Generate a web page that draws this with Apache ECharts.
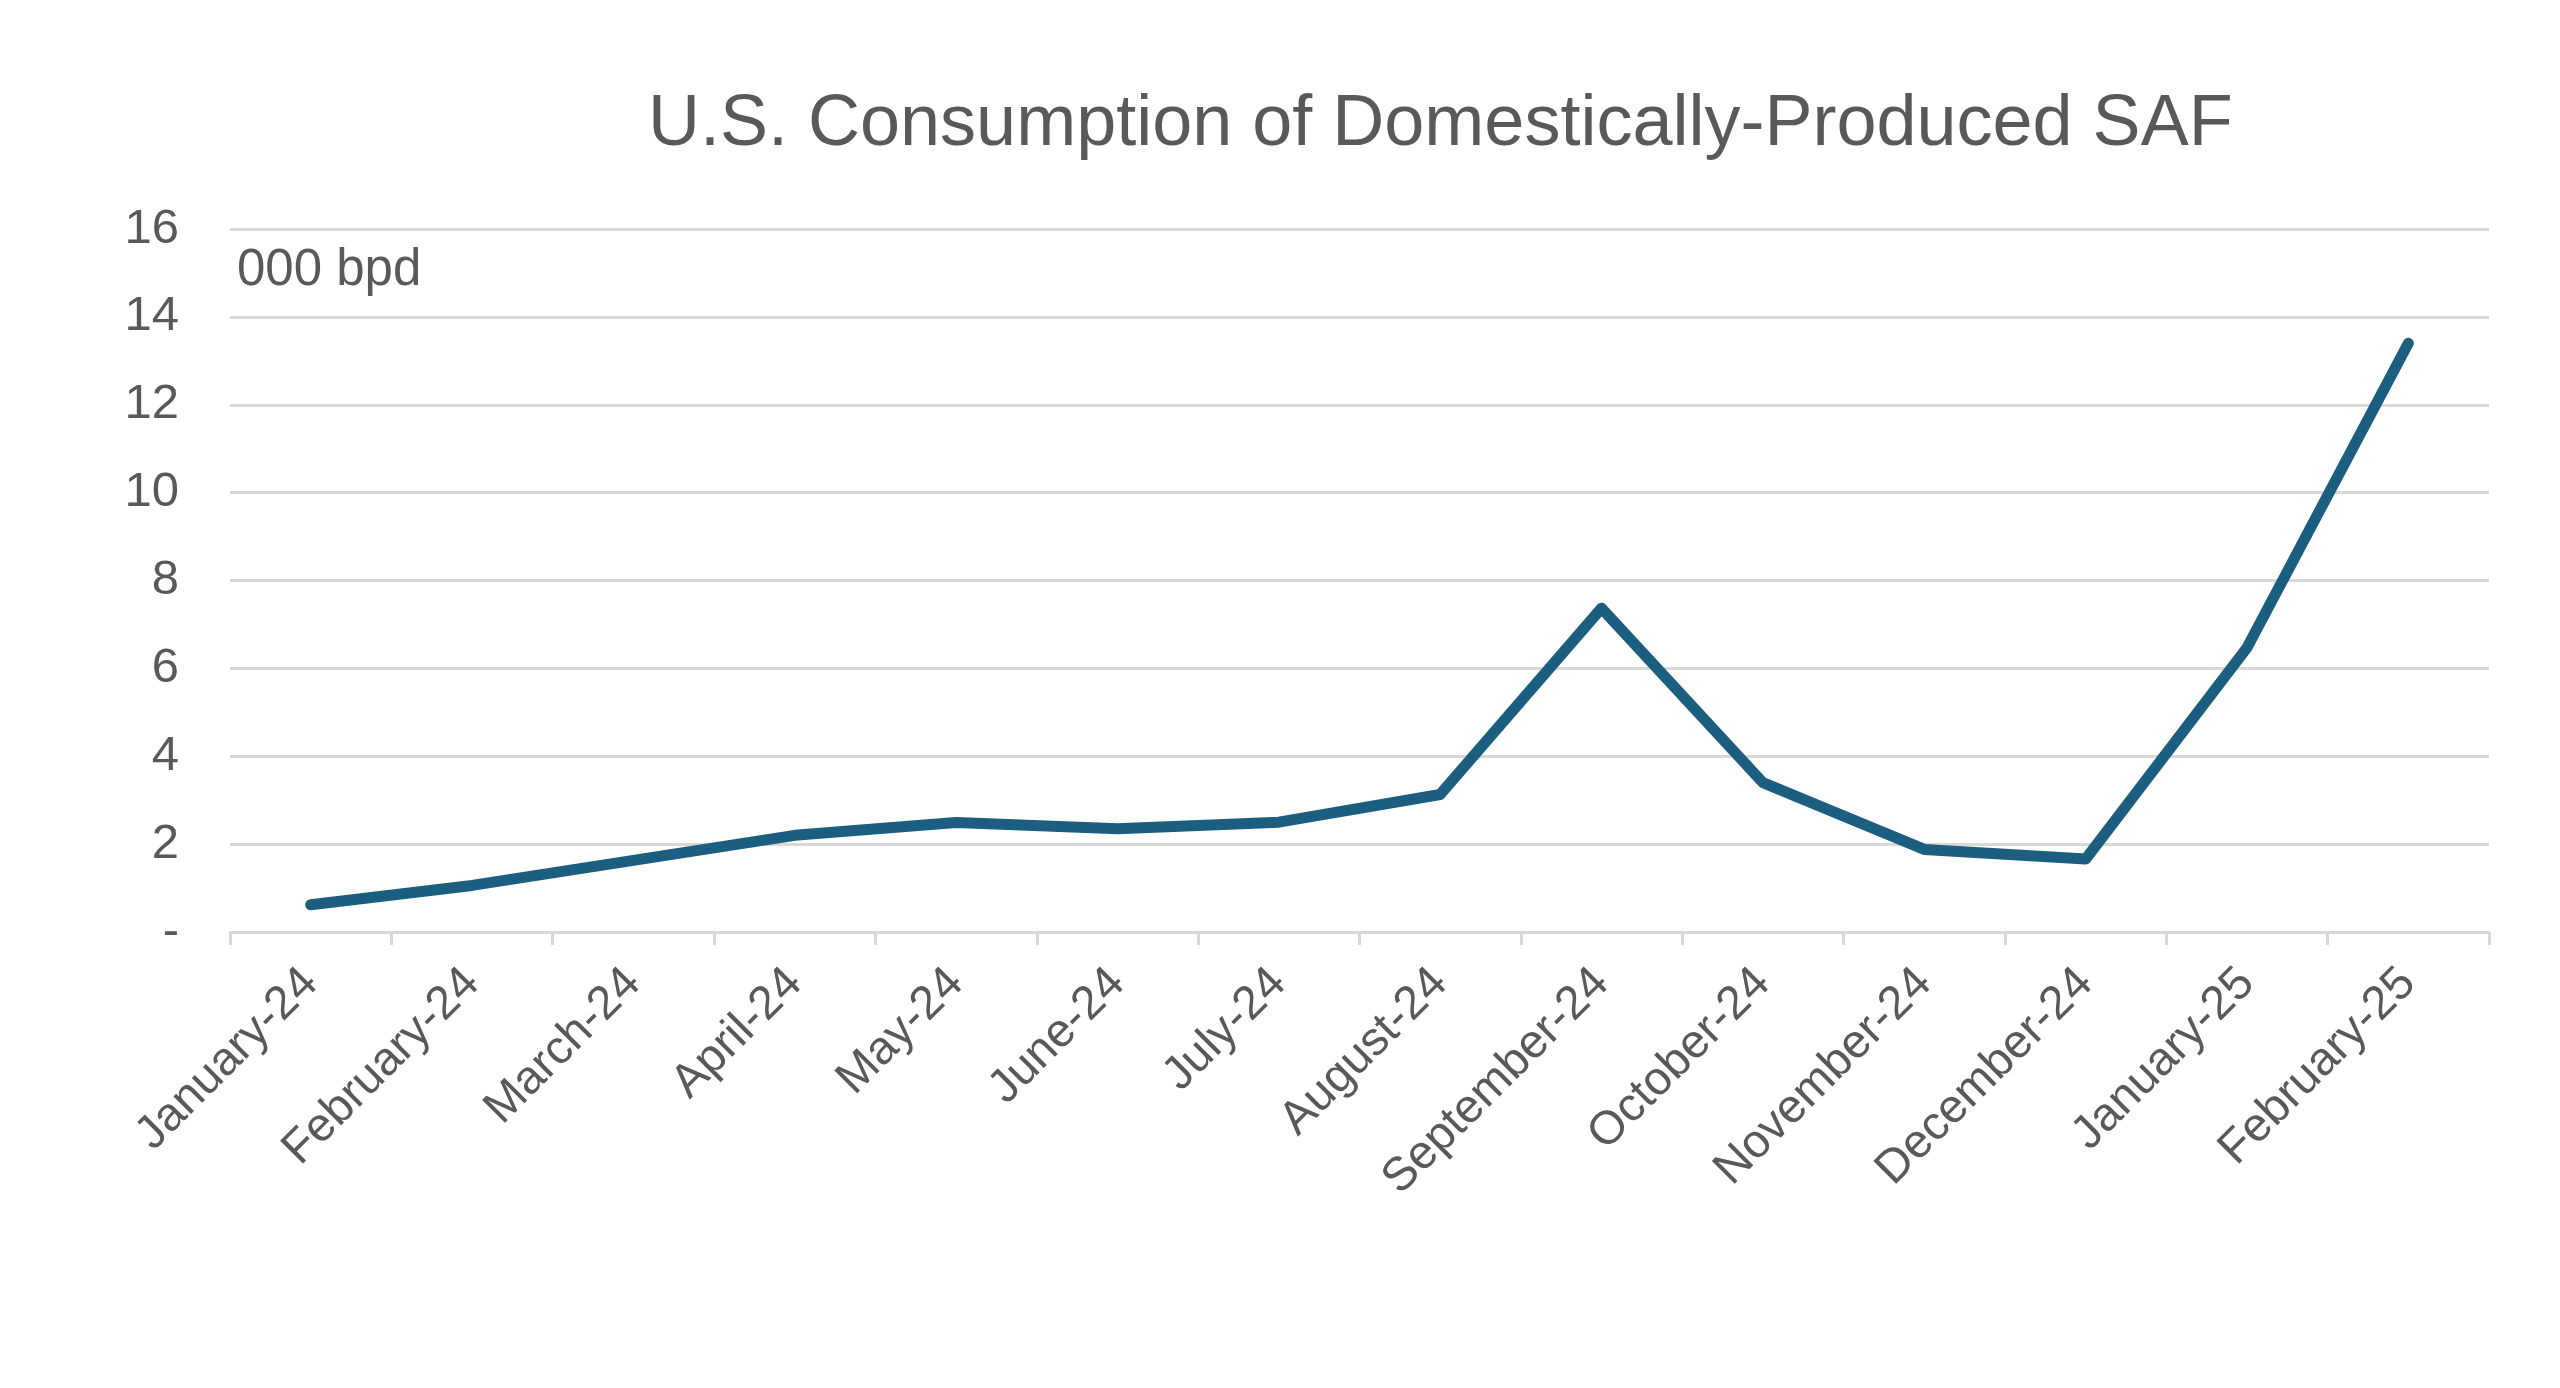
<!DOCTYPE html>
<html>
<head>
<meta charset="utf-8">
<style>
  html, body { margin: 0; padding: 0; background: #ffffff; }
  #chart { width: 2560px; height: 1388px; }
</style>
<script src="https://cdn.jsdelivr.net/npm/echarts@6/dist/echarts.min.js"></script>
</head>
<body>
<div id="chart"></div>
<script>
const categories = ['January-24','February-24','March-24','April-24','May-24','June-24','July-24','August-24','September-24','October-24','November-24','December-24','January-25','February-25'];
const consumption = [0.62, 1.06, 1.63, 2.2, 2.49, 2.35, 2.5, 3.13, 7.37, 3.4, 1.88, 1.66, 6.47, 13.4];
const yTicks = [0, 2, 4, 6, 8, 10, 12, 14, 16];
const titleText = 'U.S. Consumption of Domestically-Produced SAF';
const unitText = '000 bpd';

const chart = echarts.init(document.getElementById('chart'), null, { renderer: 'canvas' });
const fontFamily = '"Liberation Sans", Arial, sans-serif';
const textColor = '#595959';
const gridColor = '#d9d9d9';

chart.setOption({
  backgroundColor: '#ffffff',
  animation: false,
  title: {
    text: titleText,
    left: 643,
    top: 84,
    textStyle: { fontFamily, fontSize: 72, fontWeight: 'normal', color: textColor }
  },
  grid: { left: 230, right: 71, top: 229, bottom: 456, containLabel: false },
  graphic: [{
    type: 'text',
    left: 237,
    top: 245,
    style: { text: unitText, fontFamily, fontSize: 51, fill: textColor }
  }],
  xAxis: {
    type: 'category',
    data: categories,
    boundaryGap: true,
    axisLine: { show: true, lineStyle: { color: gridColor, width: 3 } },
    axisTick: { show: true, alignWithLabel: false, length: 13, lineStyle: { color: gridColor, width: 3 } },
    axisLabel: { rotate: 45, interval: 0, margin: 44, fontFamily, fontSize: 47, color: textColor }
  },
  yAxis: {
    type: 'value',
    min: yTicks[0],
    max: yTicks[yTicks.length - 1],
    interval: 2,
    axisLine: { show: false },
    axisTick: { show: false },
    splitLine: { show: true, lineStyle: { color: gridColor, width: 3 } },
    axisLabel: {
      margin: 51, fontFamily, fontSize: 49, color: textColor,
      formatter: v => (v === 0 ? '-' : String(v))
    }
  },
  series: [{
    type: 'line',
    data: consumption,
    symbol: 'none',
    lineStyle: { color: '#1b5e80', width: 11, cap: 'round', join: 'round' },
    itemStyle: { color: '#1b5e80' }
  }]
});
</script>
</body>
</html>
